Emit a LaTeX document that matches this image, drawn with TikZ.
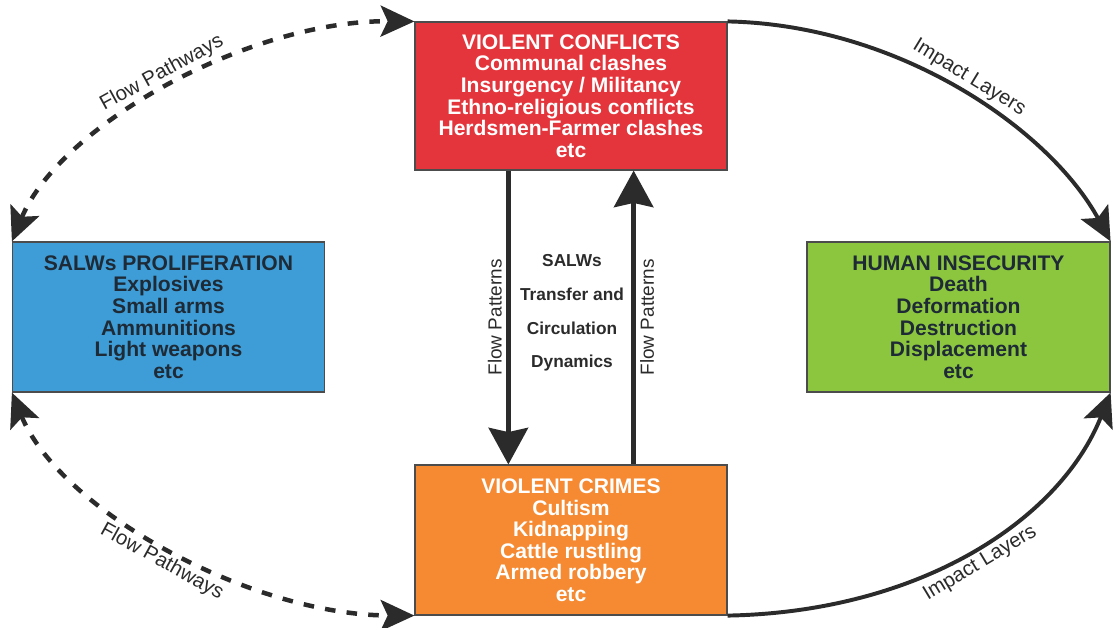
\documentclass[tikz,border=0pt]{standalone}
\usepackage{fontspec}
\setmainfont{Liberation Sans}
\usepackage{tikz}
\usetikzlibrary{calc}
\usetikzlibrary{arrows.meta}

\definecolor{conflictred}{HTML}{E3353B}
\definecolor{salwblue}{HTML}{3E9DD6}
\definecolor{insecgreen}{HTML}{8CC63F}
\definecolor{crimeorange}{HTML}{F58A32}
\definecolor{inkdark}{HTML}{1E2A36}
\definecolor{arrowgray}{HTML}{2B2B2B}

\begin{document}
\begin{tikzpicture}[x=0.025cm,y=-0.025cm,
    box/.style={draw=black!70, line width=0.8pt, minimum width=7.8cm, minimum height=3.7cm,
        inner sep=0pt, align=center, font=\fontsize{15}{15.3}\selectfont\bfseries},
    flow/.style={line width=3.2pt, draw=arrowgray, -{Stealth[length=26pt,width=28pt,inset=3pt]}},
    pathway/.style={line width=3.2pt, draw=arrowgray, dash pattern=on 7.5pt off 8pt,
        {Stealth[length=24pt,width=22pt,inset=5pt]}-{Stealth[length=24pt,width=22pt,inset=5pt]}},
    impact/.style={line width=2.8pt, draw=arrowgray, -{Stealth[length=24pt,width=22pt,inset=5pt]}},
    tag/.style={text=arrowgray, font=\fontsize{14.5}{16}\selectfont, inner sep=3pt}]
    \useasboundingbox (0,0) rectangle (1113,627);

    % Place the boxes
    \node[box, fill=conflictred, text=white] (conflicts) at (571,96)
        {VIOLENT CONFLICTS\\Communal clashes\\Insurgency / Militancy\\Ethno-religious conflicts\\Herdsmen-Farmer clashes\\etc};
    \node[box, fill=salwblue, text=inkdark, minimum height=3.75cm] (proliferation) at (168.5,317)
        {SALWs PROLIFERATION\\Explosives\\Small arms\\Ammunitions\\Light weapons\\etc};
    \node[box, fill=insecgreen, text=inkdark, minimum width=7.575cm, minimum height=3.75cm] (insecurity) at (958.5,317)
        {HUMAN INSECURITY\\Death\\Deformation\\Destruction\\Displacement\\etc};
    \node[box, fill=crimeorange, text=white, minimum height=3.75cm] (crimes) at (571,540)
        {VIOLENT CRIMES\\Cultism\\Kidnapping\\Cattle rustling\\Armed robbery\\etc};

    % The middle text
    \node[text=arrowgray, align=center, font=\fontsize{12.3}{24}\selectfont\bfseries] (dynamics) at (572,313)
        {SALWs\\Transfer and\\Circulation\\Dynamics};

    % The flow patterns
    \draw[flow] ($(conflicts.south west)!0.3!(conflicts.south east)$) -- ($(crimes.north west)!0.3!(crimes.north east)$)
        node[tag, midway, rotate=90, anchor=south, font=\fontsize{13.5}{15}\selectfont] {Flow Patterns};
    \draw[flow] ($(crimes.north west)!0.7!(crimes.north east)$) -- ($(conflicts.south west)!0.7!(conflicts.south east)$)
        node[tag, midway, rotate=90, anchor=north, font=\fontsize{13.5}{15}\selectfont] {Flow Patterns};

    % The flow pathways
    \draw[pathway] (proliferation.north west) .. controls (60,125) and (250,20) .. (conflicts.north west)
        node[tag, pos=0.5, sloped, above] {Flow Pathways};
    \draw[pathway] (proliferation.south west) .. controls (60,510) and (250,615) .. (crimes.south west)
        node[tag, pos=0.5, sloped, below] {Flow Pathways};

    % The impact layers
    \draw[impact] (conflicts.north east) .. controls (900,25) and (1050,130) .. (insecurity.north east)
        node[tag, pos=0.5, sloped, above] {Impact Layers};
    \draw[impact] (crimes.south east) .. controls (920,612) and (1060,520) .. (insecurity.south east)
        node[tag, pos=0.5, sloped, below] {Impact Layers};
\end{tikzpicture}
\end{document}
